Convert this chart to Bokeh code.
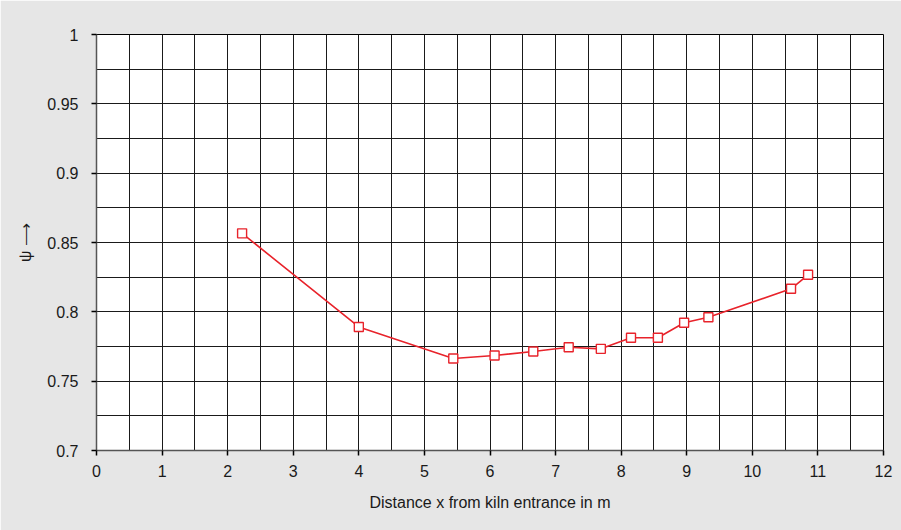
from bokeh.plotting import figure
from bokeh.models import Range1d, SingleIntervalTicker, FixedTicker
from bokeh.embed import file_html
from bokeh.resources import INLINE

# Measured flow coefficient along the kiln
distance_m = [2.22, 4.0, 5.44, 6.07, 6.66, 7.20, 7.69, 8.15, 8.56, 8.96, 9.33, 10.59, 10.85]
psi = [0.8566, 0.7891, 0.7663, 0.7685, 0.7714, 0.7745, 0.7733, 0.7813, 0.7813, 0.7921, 0.7961, 0.8166, 0.8267]

x_ticks = [0, 1, 2, 3, 4, 5, 6, 7, 8, 9, 10, 11, 12]
y_ticks = [0.7, 0.75, 0.8, 0.85, 0.9, 0.95, 1.0]

x_title = "Distance x from kiln entrance in m"
y_title = "ψ ⟶"

RED = "#e8232b"
GREY = "#e6e6e6"
INK = "#1a1a1a"

p = figure(width=901, height=530,
           x_range=Range1d(0, 12), y_range=Range1d(0.7, 1.0),
           output_backend="svg", toolbar_location=None,
           min_border_left=96, min_border_right=18,
           min_border_top=34, min_border_bottom=80,
           border_fill_color=GREY, background_fill_color="white",
           outline_line_color="black")

# dense grid: every 0.5 m and every 0.025 in psi
p.xgrid.ticker = SingleIntervalTicker(interval=0.5)
p.ygrid.ticker = SingleIntervalTicker(interval=0.025)
p.xgrid.grid_line_color = INK
p.ygrid.grid_line_color = INK
p.xgrid.grid_line_alpha = 1
p.ygrid.grid_line_alpha = 1

p.xaxis.ticker = FixedTicker(ticks=x_ticks)
p.yaxis.ticker = FixedTicker(ticks=y_ticks)
p.xaxis.axis_line_color = "#555555"
p.yaxis.axis_line_color = "#555555"
p.xaxis.axis_line_width = 1.5
p.yaxis.axis_line_width = 1.5
p.xaxis.major_tick_line_width = 1.5
p.yaxis.major_tick_line_width = 1.5
p.xaxis.major_tick_in = 0
p.yaxis.major_tick_in = 0
p.xaxis.major_tick_out = 5
p.yaxis.major_tick_out = 5
p.xaxis.minor_tick_line_color = None
p.yaxis.minor_tick_line_color = None
p.xaxis.major_label_text_font_size = "16px"
p.yaxis.major_label_text_font_size = "16px"
p.xaxis.major_label_text_color = INK
p.yaxis.major_label_text_color = INK
p.xaxis.major_label_standoff = 9
p.yaxis.major_label_standoff = 13

# axis titles
p.xaxis.axis_label = x_title
p.yaxis.axis_label = y_title
p.xaxis.axis_label_text_font_size = "16px"
p.yaxis.axis_label_text_font_size = "16px"
p.xaxis.axis_label_text_font_style = "normal"
p.yaxis.axis_label_text_font_style = "normal"
p.xaxis.axis_label_text_color = INK
p.yaxis.axis_label_text_color = INK
p.xaxis.axis_label_standoff = 14
p.yaxis.axis_label_standoff = 10

p.line(distance_m, psi, line_color=RED, line_width=1.6)
p.scatter(distance_m, psi, marker="square", size=9, fill_color="white",
          line_color=RED, line_width=1.4)

open("out.html", "w").write(file_html(p, INLINE))
